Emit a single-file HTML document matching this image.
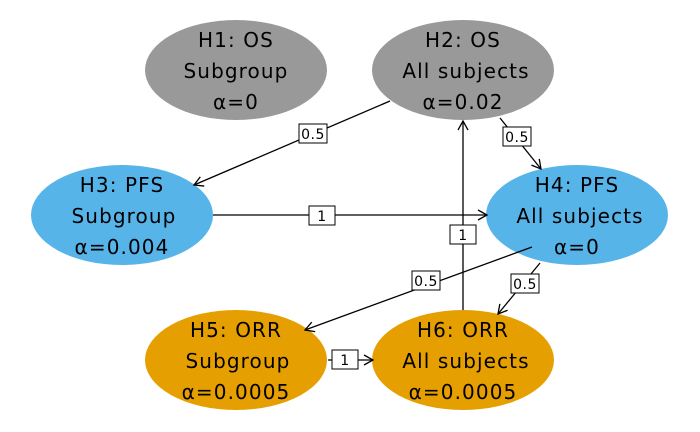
<!DOCTYPE html>
<html><head><style>body{margin:0;background:#fff}svg{display:block}</style></head><body>
<svg width="700" height="432" viewBox="0 0 700 432" xmlns="http://www.w3.org/2000/svg" font-family="DejaVu Sans, Liberation Sans, sans-serif">
<defs><marker id="a" markerWidth="12" markerHeight="12" refX="10" refY="6" orient="auto" markerUnits="userSpaceOnUse"><path d="M1,1 L10,6 L1,11" fill="none" stroke="#000" stroke-width="1.3"/></marker></defs>
<g>
<ellipse cx="236" cy="70" rx="91" ry="50" fill="#999999"/>
<ellipse cx="463" cy="70" rx="91" ry="50" fill="#999999"/>
<ellipse cx="122" cy="215" rx="91" ry="50" fill="#56B4E9"/>
<ellipse cx="577" cy="215" rx="91" ry="50" fill="#56B4E9"/>
<ellipse cx="236" cy="360" rx="91" ry="50" fill="#E69F00"/>
<ellipse cx="463" cy="360" rx="91" ry="50" fill="#E69F00"/>
</g>
<g font-size="20" text-anchor="middle" fill="#000" letter-spacing="1.1">
<text x="236" y="47">H1: OS</text><text x="236" y="78">Subgroup</text><text x="236" y="109">α=0</text>
<text x="463" y="47">H2: OS</text><text x="466" y="78">All subjects</text><text x="463" y="109">α=0.02</text>
<text x="122" y="192">H3: PFS</text><text x="124" y="223">Subgroup</text><text x="122" y="254">α=0.004</text>
<text x="577" y="192">H4: PFS</text><text x="580" y="223">All subjects</text><text x="577" y="254">α=0</text>
<text x="236" y="337">H5: ORR</text><text x="238" y="368">Subgroup</text><text x="236" y="399">α=0.0005</text>
<text x="463" y="337">H6: ORR</text><text x="466" y="368">All subjects</text><text x="463" y="399">α=0.0005</text>
</g>
<g stroke="#000" stroke-width="1.3" fill="none" marker-end="url(#a)">
<line x1="390" y1="101" x2="194" y2="185"/>
<line x1="500" y1="118" x2="541" y2="169"/>
<line x1="213" y1="215" x2="487" y2="215"/>
<line x1="532" y1="247" x2="305" y2="330"/>
<line x1="540" y1="263" x2="498" y2="314"/>
<line x1="328" y1="360" x2="373" y2="360"/>
<line x1="463" y1="310" x2="463" y2="121"/>
</g>
<g font-size="14" text-anchor="middle" letter-spacing="0.5">
<rect x="299" y="124" width="28" height="19" fill="#fff" stroke="#000"/><text x="313" y="139">0.5</text>
<rect x="503" y="127" width="28" height="19" fill="#fff" stroke="#000"/><text x="517" y="142">0.5</text>
<rect x="309" y="206" width="26" height="19" fill="#fff" stroke="#000"/><text x="322" y="221">1</text>
<rect x="450" y="225" width="26" height="19" fill="#fff" stroke="#000"/><text x="463" y="240">1</text>
<rect x="412" y="271" width="28" height="19" fill="#fff" stroke="#000"/><text x="426" y="286">0.5</text>
<rect x="511" y="274" width="28" height="19" fill="#fff" stroke="#000"/><text x="525" y="289">0.5</text>
<rect x="332" y="350" width="26" height="19" fill="#fff" stroke="#000"/><text x="345" y="365">1</text>
</g>
</svg>
</body></html>
